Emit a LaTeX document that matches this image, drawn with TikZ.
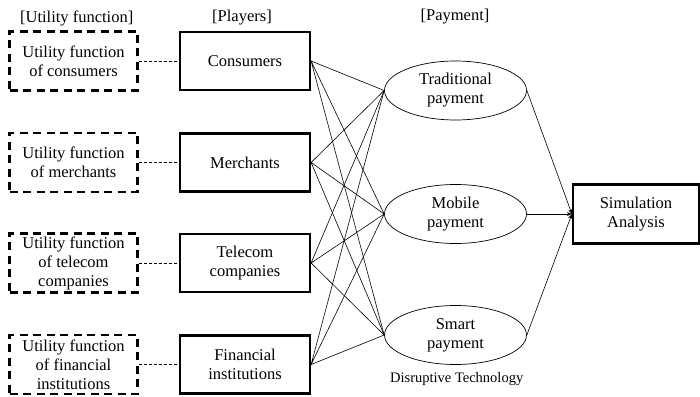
\documentclass[tikz,border=0pt]{standalone}
\usepackage{fontspec}
\setmainfont{Liberation Serif}
\usetikzlibrary{arrows.meta,shapes.geometric}

\begin{document}
\begin{tikzpicture}[x=1pt, y=1pt, >={Stealth[length=5pt,width=4pt]},
  font=\fontsize{16.5}{19}\selectfont,
  player/.style={draw, line width=2.2pt, minimum width=130pt,
    minimum height=58pt, align=center, inner sep=0pt},
  utility/.style={draw, line width=2.2pt, dash pattern=on 8pt off 5.5pt,
    minimum width=128pt, minimum height=59pt, align=center, inner sep=0pt},
  payment/.style={draw, ellipse, line width=0.7pt, minimum width=142pt,
    minimum height=59pt, align=center, inner sep=0pt},
  link/.style={line width=0.6pt},
  tie/.style={line width=0.6pt, dash pattern=on 3pt off 2pt}]
  \useasboundingbox (0,0) rectangle (700,396);
  % columns
  \def\Xu{73.5}
  \def\Xp{245}
  \def\Xm{455.5}
  \def\Xs{636}
  % headings
  \node (hutil) at (76.7,378) {[Utility function]};
  \node (hplay) at (242,378) {[Players]};
  \node (hpay) at (455,379) {[Payment]};
  % utility functions
  \node[utility] (ucons) at (\Xu,335) {Utility function\\of consumers};
  \node[utility] (umerch) at (\Xu,233.5) {Utility function\\of merchants};
  \node[utility] (utele) at (\Xu,133) {Utility function\\of telecom\\companies};
  \node[utility] (ufin) at (\Xu,31.5) {Utility function\\of financial\\institutions};
  % players
  \node[player] (cons) at (\Xp,335) {Consumers};
  \node[player] (merch) at (\Xp,233.5) {Merchants};
  \node[player] (tele) at (\Xp,133) {Telecom\\companies};
  \node[player] (fin) at (\Xp,31.5) {Financial\\institutions};
  \draw[tie] (ucons.east) -- (cons.west);
  \draw[tie] (umerch.east) -- (merch.west);
  \draw[tie] (utele.east) -- (tele.west);
  \draw[tie] (ufin.east) -- (fin.west);
  % payment
  \node[payment] (trad) at (\Xm,305.5) {Traditional\\payment};
  \node[payment] (mob) at (\Xm,182) {Mobile\\payment};
  \node[payment] (smart) at (\Xm,61) {Smart\\payment};
  \node[font=\fontsize{14.5}{17}\selectfont] (disr) at (456.7,17)
    {Disruptive Technology};
  % every player meets every payment
  \draw[link] (cons.east) -- (trad.west) (cons.east) -- (mob.west)
    (cons.east) -- (smart.west);
  \draw[link] (merch.east) -- (trad.west) (merch.east) -- (mob.west)
    (merch.east) -- (smart.west);
  \draw[link] (tele.east) -- (trad.west) (tele.east) -- (mob.west)
    (tele.east) -- (smart.west);
  \draw[link] (fin.east) -- (trad.west) (fin.east) -- (mob.west)
    (fin.east) -- (smart.west);
  % analysis
  \node[player, minimum width=126pt, minimum height=59pt] (sim) at (\Xs,182)
    {Simulation\\Analysis};
  \draw[link,->] (trad.east) -- (sim.west);
  \draw[link,->] (mob.east) -- (sim.west);
  \draw[link,->] (smart.east) -- (sim.west);
\end{tikzpicture}
\end{document}
